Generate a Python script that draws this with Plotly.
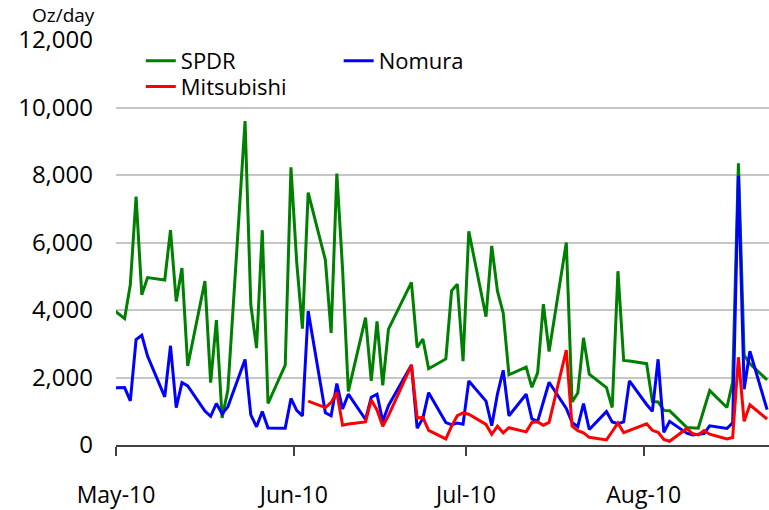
import plotly.graph_objects as go

dates = [
    "2010-04-30",
    "2010-05-03", "2010-05-04", "2010-05-05", "2010-05-06", "2010-05-07",
    "2010-05-10", "2010-05-11", "2010-05-12", "2010-05-13", "2010-05-14",
    "2010-05-17", "2010-05-18", "2010-05-19", "2010-05-20", "2010-05-21",
    "2010-05-24", "2010-05-25", "2010-05-26", "2010-05-27", "2010-05-28",
    "2010-05-31", "2010-06-01", "2010-06-02", "2010-06-03", "2010-06-04",
    "2010-06-07", "2010-06-08", "2010-06-09", "2010-06-10", "2010-06-11",
    "2010-06-14", "2010-06-15", "2010-06-16", "2010-06-17", "2010-06-18",
    "2010-06-22", "2010-06-23", "2010-06-24", "2010-06-25",
    "2010-06-28", "2010-06-29", "2010-06-30", "2010-07-01", "2010-07-02",
    "2010-07-05", "2010-07-06", "2010-07-07", "2010-07-08", "2010-07-09",
    "2010-07-12", "2010-07-13", "2010-07-14", "2010-07-15", "2010-07-16",
    "2010-07-19", "2010-07-20", "2010-07-21", "2010-07-22", "2010-07-23",
    "2010-07-26", "2010-07-27", "2010-07-28", "2010-07-29", "2010-07-30",
    "2010-08-02", "2010-08-03", "2010-08-04", "2010-08-05", "2010-08-06",
    "2010-08-09", "2010-08-10", "2010-08-11", "2010-08-12", "2010-08-13",
    "2010-08-16", "2010-08-17", "2010-08-18", "2010-08-19", "2010-08-20",
    "2010-08-23",
]

spdr = [
    4150,
    3745, 4755, 7360, 4450, 4960,
    4890, 6365, 4255, 5245, 2340,
    4855, 1850, 3700, 800, 1630,
    9600, 4155, 2870, 6365, 1230,
    2365, 8230, 5415, 3445, 7480,
    5480, 3320, 8040, 5200, 1590,
    3775, 1900, 3660, 1770, 3435,
    4820, 2890, 3140, 2260,
    2550, 4570, 4765, 2485, 6330,
    3800, 5900, 4560, 3910, 2080,
    2310, 1710, 2140, 4175, 2770,
    6000, 1275, 1540, 3175, 2095,
    1700, 1110, 5150, 2505, 2490,
    2410, 1290, 1275, 1025, 1015,
    520, 500, 500, 1060, 1610,
    1110, 1870, 8350, 2660, 2410,
    1930,
]

nomura = [
    1690,
    1700, 1310, 3125, 3250, 2635,
    1425, 2940, 1110, 1850, 1750,
    1005, 850, 1230, 925, 1130,
    2535, 895, 540, 995, 505,
    500, 1380, 1025, 865, 3970,
    955, 865, 1820, 1065, 1505,
    755, 1415, 1505, 700, 1170,
    2370, 500, 795, 1550,
    665, 600, 650, 615, 1895,
    1300, 570, 1515, 2215, 865,
    1505, 770, 700, 1245, 1860,
    1080, 670, 545, 1230, 460,
    990, 685, 630, 685, 1900,
    1200, 1000, 2540, 375, 700,
    350, 300, 330, 340, 570,
    490, 655, 7980, 1650, 2780,
    1050,
]

mitsubishi = [
    None,
    None, None, None, None, None,
    None, None, None, None, None,
    None, None, None, None, None,
    None, None, None, None, None,
    None, None, None, None, 1300,
    1110, 1260, 1555, 585, 620,
    685, 1335, 1040, 555, 870,
    2370, 800, 818, 435,
    180, 560, 867, 950, 913,
    610, 317, 557, 361, 513,
    390, 670, 685, 587, 670,
    2815, 560, 425, 360, 228,
    150, 400, 650, 365, 435,
    630, 435, 375, 165, 110,
    490, 340, 300, 430, 320,
    180, 220, 2600, 700, 1190,
    770,
]

tick_dates = ["2010-05-01 12:00", "2010-06-01 12:00", "2010-07-01 12:00", "2010-08-01 12:00"]
tick_labels = ["May-10", "Jun-10", "Jul-10", "Aug-10"]
y_ticks = [0, 2000, 4000, 6000, 8000, 10000, 12000]

FONT = "Open Sans"

fig = go.Figure()
fig.add_trace(go.Scatter(x=dates, y=spdr, name="SPDR", mode="lines",
                         line=dict(color="#008000", width=3), legend="legend",
                         showlegend=True))
fig.add_trace(go.Scatter(x=dates, y=nomura, name="Nomura", mode="lines",
                         line=dict(color="#0000FF", width=3), legend="legend2",
                         showlegend=True))
fig.add_trace(go.Scatter(x=dates, y=mitsubishi, name="Mitsubishi", mode="lines",
                         line=dict(color="#FF0000", width=3), legend="legend3",
                         connectgaps=False, showlegend=True))

legend_common = dict(font=dict(family=FONT, size=22, color="black"),
                     bgcolor="rgba(0,0,0,0)", borderwidth=0,
                     xanchor="left", yanchor="middle", itemwidth=30)

fig.update_layout(
    width=769, height=510,
    margin=dict(l=116, r=0, t=40, b=62),
    paper_bgcolor="white", plot_bgcolor="white",
    font=dict(family=FONT, color="black"),
    showlegend=True,
    legend=dict(x=0.038, y=0.948, **legend_common),
    legend2=dict(x=0.341, y=0.948, **legend_common),
    legend3=dict(x=0.038, y=0.885, **legend_common),
    xaxis=dict(
        type="date",
        range=["2010-05-01 12:00", "2010-08-23 08:00"],
        tickvals=tick_dates, ticktext=tick_labels,
        ticks="outside", ticklen=9, tickwidth=1.5, tickcolor="#404040",
        showline=True, linecolor="#404040", linewidth=1.5,
        showgrid=False, zeroline=False,
        tickfont=dict(family=FONT, size=23, color="black"),
        ticklabelstandoff=20,
    ),
    yaxis=dict(
        range=[0, 12000], tickvals=y_ticks, tickformat=",",
        showgrid=True, gridcolor="#c6c6c6", gridwidth=1.5,
        zeroline=False, showline=False, ticks="",
        tickfont=dict(family=FONT, size=24, color="black"),
        ticklabelstandoff=22,
    ),
    annotations=[dict(text="Oz/day", xref="paper", yref="paper",
                      x=-0.081, y=1.062, xanchor="center", yanchor="middle",
                      showarrow=False, font=dict(family=FONT, size=19, color="black"))],
)

fig.write_html("out.html", config={"displayModeBar": False},
               post_script="document.body.style.margin='0';document.body.style.overflow='hidden';")
